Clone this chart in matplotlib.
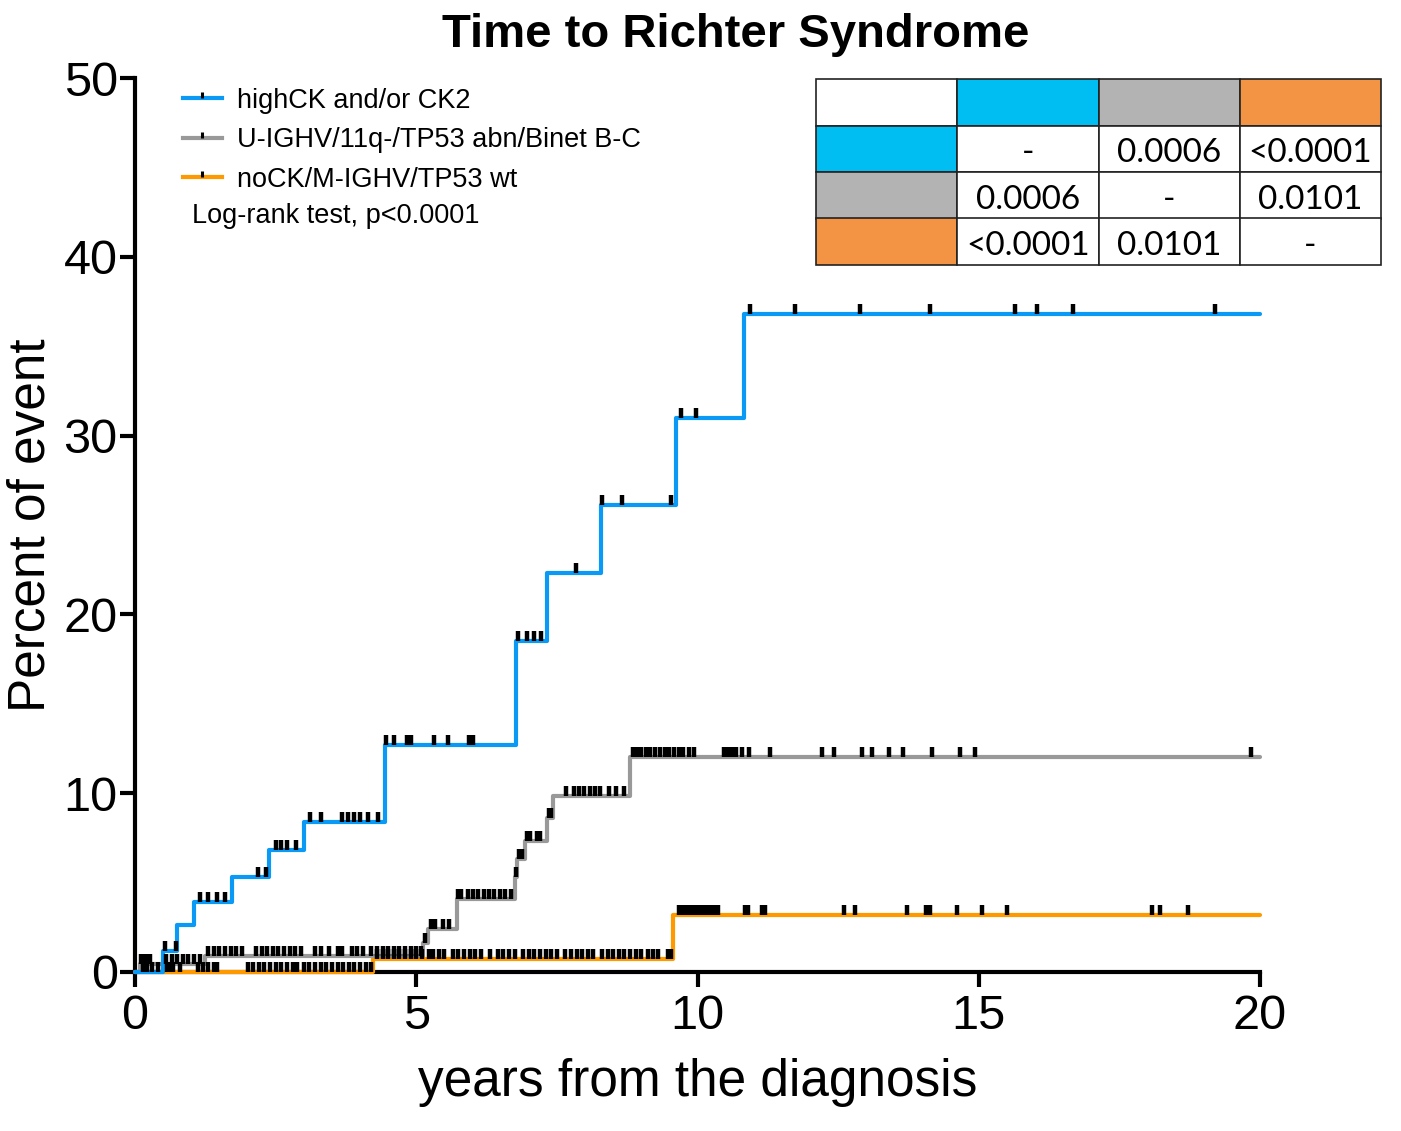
import numpy as np
import matplotlib.pyplot as plt
from matplotlib.path import Path
from matplotlib.lines import Line2D
from matplotlib.patches import Rectangle

# step curves (years, percent of event)
blue_t = [0, 0.5, 0.74, 1.04, 1.73, 2.38, 3.0, 4.44, 6.77, 7.32, 8.29, 9.62, 10.82, 20]
blue_y = [0, 1.2, 2.6, 3.9, 5.3, 6.8, 8.4, 12.7, 18.5, 22.3, 26.1, 31.0, 36.8, 36.8]

gray_t = [0, 0.08, 1.25, 5.12, 5.2, 5.72, 6.76, 6.79, 6.93, 7.32, 7.43, 8.8, 20]
gray_y = [0, 0.45, 0.9, 1.6, 2.4, 4.1, 5.3, 6.3, 7.3, 8.6, 9.85, 12.05, 12.05]

orange_t = [0, 4.23, 9.56, 20]
orange_y = [0, 0.75, 3.2, 3.2]

# censored observations (years)
blue_cens = [0.14, 0.22, 0.3, 0.4, 0.54, 0.72, 1.16, 1.3, 1.45, 1.6, 2.19, 2.33,
             2.5, 2.6, 2.7, 2.86, 3.11, 3.31, 3.68, 3.79, 3.89, 4.0, 4.15, 4.32,
             4.47, 4.6, 4.84, 4.91, 5.31, 5.57, 5.94, 6.01, 6.8, 6.97, 7.09, 7.21,
             7.84, 8.3, 8.66, 9.53, 9.71, 9.97, 10.93, 11.73, 12.89, 14.13, 15.64,
             16.04, 16.68, 19.2]
gray_cens = [0.1, 0.15, 0.22, 0.27, 0.55, 0.65, 0.75, 0.85, 0.95, 1.05, 1.15,
             1.3, 1.4, 1.5, 1.6, 1.7, 1.8, 1.9, 2.15, 2.25, 2.35, 2.45, 2.55, 2.65,
             2.75, 2.85, 2.95, 3.2, 3.3, 3.45, 3.6, 3.68, 3.85, 3.95, 4.05, 4.2, 4.3,
             4.4, 4.5, 4.6, 4.7, 4.8, 4.9, 5.0, 5.08, 5.15, 5.26, 5.34, 5.48, 5.58,
             5.75, 5.8, 5.92, 6.0, 6.1, 6.2, 6.3, 6.38, 6.48, 6.58, 6.68, 6.77,
             6.82, 6.88, 6.97, 7.03, 7.14, 7.2, 7.36, 7.4, 7.67, 7.8, 7.9, 7.98,
             8.08, 8.17, 8.26, 8.42, 8.55, 8.7, 8.85, 8.92, 9.0, 9.08, 9.15, 9.24,
             9.33, 9.42, 9.5, 9.58, 9.67, 9.75, 9.85, 9.93, 10.47, 10.54, 10.62,
             10.69, 10.79, 10.92, 11.29, 12.21, 12.42, 12.93, 13.11, 13.41, 13.66,
             14.16, 14.67, 14.93, 19.84]
orange_cens = [0.56, 0.62, 0.68, 0.8, 1.12, 1.2, 1.3, 1.4, 1.46, 2.0, 2.1, 2.2,
               2.3, 2.4, 2.5, 2.6, 2.7, 2.8, 2.88, 3.0, 3.1, 3.2, 3.3, 3.4, 3.5,
               3.6, 3.7, 3.8, 3.9, 4.0, 4.1, 4.2, 4.3, 4.4, 4.5, 4.6, 4.7, 4.8,
               4.9, 5.0, 5.1, 5.22, 5.3, 5.4, 5.5, 5.65, 5.75, 5.85, 5.95, 6.05,
               6.15, 6.31, 6.45, 6.55, 6.65, 6.75, 6.9, 7.0, 7.1, 7.2, 7.3, 7.4,
               7.5, 7.65, 7.75, 7.85, 7.95, 8.05, 8.15, 8.3, 8.4, 8.5, 8.6, 8.7,
               8.8, 8.9, 9.0, 9.12, 9.2, 9.3, 9.47, 9.52, 9.67, 9.74, 9.81, 9.88,
               9.95, 10.02, 10.08, 10.15, 10.22, 10.3, 10.36, 10.84, 10.9, 11.14,
               11.2, 12.6, 12.8, 13.72, 14.06, 14.14, 14.62, 15.06, 15.5, 18.08,
               18.22, 18.72]

labels = ['highCK and/or CK2', 'U-IGHV/11q-/TP53 abn/Binet B-C', 'noCK/M-IGHV/TP53 wt']
colors = ['#0a99f5', '#999999', '#ff9900']

# pairwise log-rank p values
table_vals = [['-', '0.0006', '<0.0001'],
              ['0.0006', '-', '0.0101'],
              ['<0.0001', '0.0101', '-']]
table_colors = ['#00bef2', '#b3b3b3', '#f29444']

tick = Path([(0, 0), (0, 1)])


def level_at(ts, ys, t):
    i = np.searchsorted(ts, t, side='right') - 1
    return np.asarray(ys)[i]


fig = plt.figure(figsize=(14.01, 11.31), dpi=100)
ax = fig.add_axes([0.0964, 0.1406, 0.803, 0.7904])

curves = [(blue_t, blue_y, blue_cens), (gray_t, gray_y, gray_cens),
          (orange_t, orange_y, orange_cens)]
for k, (ts, ys, cens) in reversed(list(enumerate(curves))):
    ax.step(ts, ys, where='post', color=colors[k], lw=3.0, clip_on=False,
            zorder=3 + (2 - k) * 0.1, solid_capstyle='round')
    ax.plot(cens, level_at(ts, ys, cens), ls='none', marker=tick, ms=14,
            mew=3.2, mec='black', clip_on=False, zorder=5)

ax.set_xlim(0, 20)
ax.set_ylim(0, 50)
ax.set_xticks([0, 5, 10, 15, 20])
ax.set_yticks([0, 10, 20, 30, 40, 50])
for s in ['top', 'right']:
    ax.spines[s].set_visible(False)
for s in ['left', 'bottom']:
    ax.spines[s].set_linewidth(3)
ax.tick_params(width=3, length=10.5, labelsize=35, pad=2)
ax.tick_params(axis='x', pad=5)
for lab in ax.get_xticklabels() + ax.get_yticklabels():
    lab.set_family('Liberation Sans')
ax.set_xlabel('years from the diagnosis', fontsize=37, family='Liberation Sans', labelpad=14)
ax.set_ylabel('Percent of event', fontsize=37, family='Liberation Sans', labelpad=6)

fig.text(0.525, 0.969, 'Time to Richter Syndrome', ha='center', va='center',
         fontsize=34, fontweight='bold', family='Liberation Sans')

handles = [Line2D([0], [0], color=c, lw=3, marker=tick, ms=9, mew=2.2, mec='black')
           for c in colors]
leg = fig.legend(handles, labels, loc='upper left', bbox_to_anchor=(0.113, 0.944),
                 frameon=False, handlelength=1.45, handletextpad=0.55,
                 labelspacing=0.5, prop={'family': 'Liberation Sans', 'size': 19.5})
fig.text(0.137, 0.809, 'Log-rank test, p<0.0001', fontsize=19.5,
         family='Liberation Sans', va='center')

# p value table in the top right corner
x0, y0 = 816 / 1401, 1 - 79 / 1131
cw, rh = 141.3 / 1401, 46.5 / 1131
for r in range(4):
    for c in range(4):
        fc = 'white'
        if r == 0 and c > 0:
            fc = table_colors[c - 1]
        if c == 0 and r > 0:
            fc = table_colors[r - 1]
        fig.add_artist(Rectangle((x0 + c * cw, y0 - (r + 1) * rh), cw, rh,
                                 transform=fig.transFigure, facecolor=fc,
                                 edgecolor='#222222', lw=1.2))
        if r > 0 and c > 0:
            fig.text(x0 + (c + 0.5) * cw, y0 - (r + 0.6) * rh, table_vals[r - 1][c - 1],
                     ha='center', va='center', fontsize=24, family='Lato')

fig.savefig('out.png', dpi=100)
